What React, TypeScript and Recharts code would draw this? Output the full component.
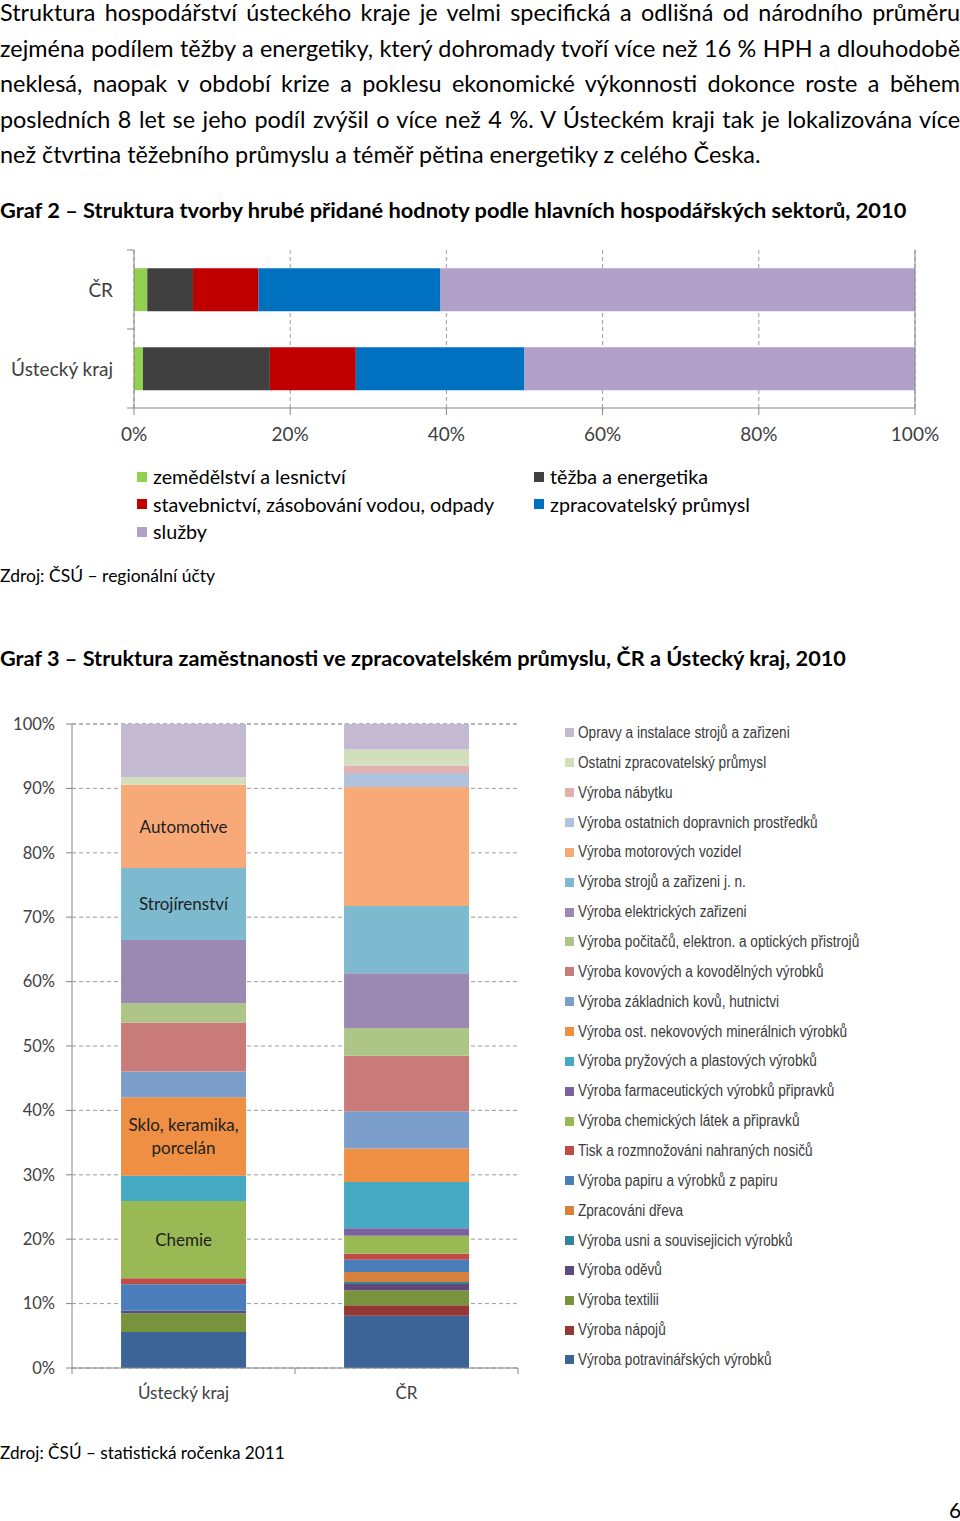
import React from "react";
import { BarChart, Bar, XAxis, YAxis, CartesianGrid, ReferenceLine, LabelList } from "recharts";

const FONT = "Lato, 'Open Sans', sans-serif";
const NARROW = "'Liberation Sans', Arial, sans-serif";

const paragraphLines = [
  "Struktura hospodářství ústeckého kraje je velmi specifická a odlišná od národního průměru",
  "zejména podílem těžby a energetiky, který dohromady tvoří více než 16 % HPH a dlouhodobě",
  "neklesá, naopak v období krize a poklesu ekonomické výkonnosti dokonce roste a během",
  "posledních 8 let se jeho podíl zvýšil o více než 4 %. V Ústeckém kraji tak je lokalizována více",
  "než čtvrtina těžebního průmyslu a téměř pětina energetiky z celého Česka.",
];
const title2 = "Graf 2 – Struktura tvorby hrubé přidané hodnoty podle hlavních hospodářských sektorů, 2010";
const source2 = "Zdroj: ČSÚ – regionální účty";
const title3 = "Graf 3 – Struktura zaměstnanosti ve zpracovatelském průmyslu, ČR a Ústecký kraj, 2010";
const source3 = "Zdroj: ČSÚ – statistická ročenka 2011";
const pageNumber = "6";

// Graf 2
const gvaCategories = ["ČR", "Ústecký kraj"];
const gvaSectors = [
  "zemědělství a lesnictví",
  "těžba a energetika",
  "stavebnictví, zásobování vodou, odpady",
  "zpracovatelský průmysl",
  "služby",
];
const gvaColors = ["#92d050", "#404040", "#c00000", "#0070c0", "#b1a0c7"];
const gvaCR = [1.7, 5.85, 8.4, 23.3, 60.75];
const gvaUstecky = [1.15, 16.25, 11.0, 21.6, 50.0];
const gvaTicks = [0, 20, 40, 60, 80, 100];

// Graf 3 (bottom to top)
const manufCategories = ["Ústecký kraj", "ČR"];
const manufSectors = [
  "Výroba potravinářských výrobků",
  "Výroba nápojů",
  "Výroba textilii",
  "Výroba oděvů",
  "Výroba usni a souvisejicich výrobků",
  "Zpracováni dřeva",
  "Výroba papiru a výrobků z papiru",
  "Tisk a rozmnožováni nahraných nosičů",
  "Výroba chemických látek a připravků",
  "Výroba farmaceutických výrobků připravků",
  "Výroba pryžových a plastových výrobků",
  "Výroba ost. nekovových minerálnich výrobků",
  "Výroba základnich kovů, hutnictvi",
  "Výroba kovových a kovodělných výrobků",
  "Výroba počitačů, elektron. a optických přistrojů",
  "Výroba elektrických zařizeni",
  "Výroba strojů a zařizeni j. n.",
  "Výroba motorových vozidel",
  "Výroba ostatnich dopravnich prostředků",
  "Výroba nábytku",
  "Ostatni zpracovatelský průmysl",
  "Opravy a instalace strojů a zařizeni",
];
const manufColors = [
  "#3c6497", "#953735", "#77933c", "#5f497a", "#31859c", "#d7813c",
  "#4a7ebb", "#be4b48", "#98b954", "#7d60a0", "#46aac5", "#ee8f43",
  "#7c9ecb", "#c97b7a", "#adc687", "#9b88b3", "#7db9cf", "#f8a978",
  "#b1c2de", "#e3b0b0", "#d1dfbd", "#c3b9d1",
];
const manufUstecky = [5.6, 0, 2.9, 0.4, 0, 0, 4.1, 0.95, 12.0, 0, 3.9, 12.2, 4.0, 7.6, 3.0, 9.8, 11.2, 12.9, 0, 0, 1.2, 8.25];
const manufCR = [8.1, 1.65, 2.3, 1.0, 0.3, 1.55, 1.9, 0.95, 2.8, 1.15, 7.2, 5.2, 5.75, 8.65, 4.3, 8.5, 10.45, 18.45, 2.2, 1.15, 2.5, 3.95];
const manufTicks = [0, 10, 20, 30, 40, 50, 60, 70, 80, 90, 100];
const manufNotes = [
  { sector: 17, lines: ["Automotive"] },
  { sector: 16, lines: ["Strojírenství"] },
  { sector: 11, lines: ["Sklo, keramika,", "porcelán"] },
  { sector: 8, lines: ["Chemie"] },
];

const gvaData = gvaCategories.map((cat, i) => {
  const vals = [gvaCR, gvaUstecky][i];
  const row: Record<string, any> = { cat };
  gvaSectors.forEach((_, j) => (row["g" + j] = vals[j]));
  return row;
});

const manufData = manufCategories.map((cat, i) => {
  const vals = [manufUstecky, manufCR][i];
  const row: Record<string, any> = { cat };
  manufSectors.forEach((_, j) => (row["m" + j] = vals[j]));
  return row;
});

const AXIS = "#868686";
const GRID = "#9c9c9c";
const TXT = "#404040";

const GvaYTick = (props: any) => {
  const { x, y, payload, index, visibleTicksCount } = props;
  const axisX = x + 21;
  const off = payload && typeof payload.offset === "number" && payload.offset > 0 ? payload.offset : 39.5;
  return (
    <g>
      <text x={x} y={y} textAnchor="end" dominantBaseline="central" fontSize={19} fill={TXT} fontFamily={FONT}>
        {payload.value}
      </text>
      <line x1={axisX - 7} x2={axisX} y1={y - off} y2={y - off} stroke={AXIS} />
      {index === visibleTicksCount - 1 && <line x1={axisX - 7} x2={axisX} y1={y + off} y2={y + off} stroke={AXIS} />}
    </g>
  );
};

const ManufXTick = (props: any) => {
  const { x, y, payload, index, visibleTicksCount } = props;
  const axisY = y - 14;
  const off = payload && typeof payload.offset === "number" && payload.offset > 0 ? payload.offset : 111.5;
  return (
    <g>
      <text x={x} y={y + 10} textAnchor="middle" dominantBaseline="central" fontSize={17} fill={TXT} fontFamily={FONT}>
        {payload.value}
      </text>
      <line x1={x - off} x2={x - off} y1={axisY} y2={axisY + 6} stroke={AXIS} />
      {index === visibleTicksCount - 1 && <line x1={x + off} x2={x + off} y1={axisY} y2={axisY + 6} stroke={AXIS} />}
    </g>
  );
};

const makeNote = (lines: string[]) => (props: any) => {
  const { x, y, width, height, index } = props;
  if (index !== 0) return null;
  const cx = Number(x) + Number(width) / 2;
  const cy = Number(y) + Number(height) / 2;
  const lh = 23;
  return (
    <text x={cx} textAnchor="middle" fontSize={17} fill="#1e1e1e" fontFamily={FONT}>
      {lines.map((l, i) => (
        <tspan key={i} x={cx} y={cy + (i - (lines.length - 1) / 2) * lh} dominantBaseline="central">
          {l}
        </tspan>
      ))}
    </text>
  );
};

const abs = (top: number, extra: React.CSSProperties = {}): React.CSSProperties => ({
  position: "absolute",
  left: 0,
  top,
  whiteSpace: "nowrap",
  fontFamily: FONT,
  color: "#000",
  ...extra,
});

export default function App() {
  return (
    <div style={{ position: "absolute", left: 0, top: 0, width: 960, height: 1521, background: "#fff", overflow: "hidden" }}>
      {paragraphLines.map((l, i) => (
        <div
          key={i}
          style={abs(-5 + i * 35.5, {
            width: 960,
            height: 35.5,
            lineHeight: "35.5px",
            fontSize: 23.4,
            textAlign: "justify",
            textAlignLast: i < paragraphLines.length - 1 ? "justify" : "left",
          })}
        >
          {l}
        </div>
      ))}

      <div style={abs(197, { fontSize: 21.8, fontWeight: 700, lineHeight: "26px" })}>{title2}</div>

      <div style={{ position: "absolute", left: 0, top: 240 }}>
        <BarChart
          width={960}
          height={210}
          data={gvaData}
          layout="vertical"
          margin={{ top: 10, right: 45, left: 0, bottom: 0 }}
          barCategoryGap="23%"
        >
          <CartesianGrid horizontal={false} stroke={GRID} strokeDasharray="4 3" />
          <XAxis
            type="number"
            domain={[0, 100]}
            ticks={gvaTicks}
            tickFormatter={(v: number) => v + "%"}
            axisLine={{ stroke: AXIS }}
            tickLine={{ stroke: AXIS }}
            tickSize={7}
            tickMargin={13}
            height={42}
            tick={{ fontSize: 19, fill: TXT, fontFamily: FONT }}
          />
          <XAxis xAxisId="top" type="number" orientation="top" domain={[0, 100]} height={0} tick={false} tickLine={false} axisLine={{ stroke: AXIS }} />
          <YAxis
            type="category"
            dataKey="cat"
            width={134}
            axisLine={{ stroke: AXIS }}
            tickLine={false}
            tickSize={0}
            tickMargin={21}
            tick={<GvaYTick />}
          />
          <ReferenceLine x={100} stroke={AXIS} />
          {gvaSectors.map((s, j) => (
            <Bar key={s} dataKey={"g" + j} name={s} stackId="a" fill={gvaColors[j]} isAnimationActive={false} />
          ))}
        </BarChart>
      </div>

      <div
        style={{
          position: "absolute",
          left: 137,
          top: 463,
          display: "grid",
          gridTemplateColumns: "397px 300px",
          rowGap: 0,
          fontFamily: FONT,
          fontSize: 19.7,
          color: "#000",
        }}
      >
        {gvaSectors.map((s, j) => (
          <div key={s} style={{ display: "flex", alignItems: "center", height: 27.5, whiteSpace: "nowrap" }}>
            <span style={{ display: "inline-block", width: 10, height: 10, background: gvaColors[j], marginRight: 6 }} />
            {s}
          </div>
        ))}
      </div>

      <div style={abs(565, { fontSize: 17.5, lineHeight: "22px" })}>{source2}</div>

      <div style={abs(645, { fontSize: 21.7, fontWeight: 700, lineHeight: "26px" })}>{title3}</div>

      <div style={{ position: "absolute", left: 0, top: 714 }}>
        <BarChart
          width={540}
          height={700}
          data={manufData}
          margin={{ top: 10, right: 22, left: 0, bottom: 0 }}
          barCategoryGap="22%"
        >
          <CartesianGrid vertical={false} stroke={GRID} strokeDasharray="4 3" />
          <XAxis
            dataKey="cat"
            height={46}
            axisLine={{ stroke: AXIS }}
            tickLine={false}
            tickSize={0}
            tickMargin={14}
            tick={<ManufXTick />}
          />
          <XAxis xAxisId="top" dataKey="cat" orientation="top" height={0} tick={false} tickLine={false} axisLine={{ stroke: AXIS }} />
          <YAxis
            type="number"
            domain={[0, 100]}
            ticks={manufTicks}
            tickFormatter={(v: number) => v + "%"}
            width={72}
            axisLine={{ stroke: AXIS }}
            tickLine={{ stroke: AXIS }}
            tickSize={6}
            tickMargin={11}
            tick={{ fontSize: 16.5, fill: TXT, fontFamily: FONT }}
          />
          <YAxis yAxisId="right" orientation="right" domain={[0, 100]} width={0} tick={false} tickLine={false} axisLine={{ stroke: AXIS }} />
          {manufSectors.map((s, j) => {
            const note = manufNotes.find((n) => n.sector === j);
            return (
              <Bar key={s} dataKey={"m" + j} name={s} stackId="a" fill={manufColors[j]} isAnimationActive={false}>
                {note && <LabelList dataKey={"m" + j} content={makeNote(note.lines)} />}
              </Bar>
            );
          })}
        </BarChart>
      </div>

      <div style={{ position: "absolute", left: 565, top: 718, fontFamily: NARROW, fontSize: 16, color: "#3a3a3a" }}>
        {[...manufSectors].reverse().map((s, k) => {
          const j = manufSectors.length - 1 - k;
          return (
            <div key={s} style={{ display: "flex", alignItems: "center", height: 29.86, whiteSpace: "nowrap" }}>
              <span style={{ display: "inline-block", width: 9, height: 9, background: manufColors[j], marginRight: 4, flex: "none" }} />
              <span style={{ display: "inline-block", transform: "scaleX(0.85)", transformOrigin: "left center" }}>{s}</span>
            </div>
          );
        })}
      </div>

      <div style={abs(1442, { fontSize: 17.2, lineHeight: "22px" })}>{source3}</div>

      <div style={abs(1497, { left: 949, fontSize: 21, lineHeight: "26px" })}>{pageNumber}</div>
    </div>
  );
}
